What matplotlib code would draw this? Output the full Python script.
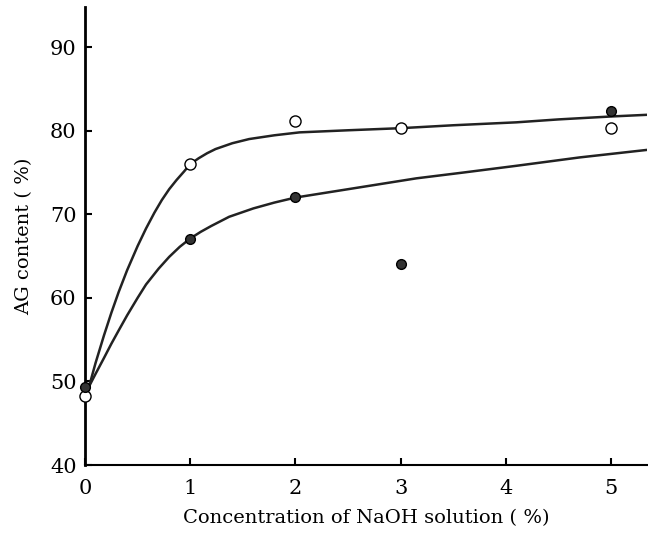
import numpy as np
import matplotlib.pyplot as plt

x_open = [0, 1, 2, 3, 5]
y_open = [48.2, 76.0, 81.1, 80.3, 80.3]
x_filled = [0, 1, 2, 3, 5]
y_filled = [49.3, 67.0, 72.1, 64.0, 82.3]

# hand-drawn fitted curves
x_curve_upper = [0.03, 0.1, 0.18, 0.25, 0.32, 0.4, 0.5, 0.58, 0.66, 0.73, 0.8, 0.87,
                 0.94, 1.0, 1.08, 1.16, 1.24, 1.4, 1.56, 1.8, 2.04, 2.5, 3.0, 3.5,
                 4.1, 4.5, 5.0, 5.34]
y_curve_upper = [49.0, 52.2, 55.5, 58.2, 60.7, 63.3, 66.2, 68.3, 70.2, 71.7, 73.0, 74.1,
                 75.1, 76.0, 76.7, 77.3, 77.8, 78.5, 79.0, 79.45, 79.8, 80.05, 80.3, 80.65,
                 81.0, 81.35, 81.7, 81.9]
x_curve_lower = [0.03, 0.1, 0.18, 0.25, 0.32, 0.4, 0.5, 0.58, 0.7, 0.8, 0.9, 1.0, 1.1,
                 1.2, 1.37, 1.6, 1.8, 2.0, 2.5, 3.15, 3.6, 4.1, 4.7, 5.34]
y_curve_lower = [49.2, 50.9, 52.8, 54.5, 56.1, 57.9, 60.0, 61.6, 63.5, 64.9, 66.1, 67.1, 67.9,
                 68.6, 69.7, 70.7, 71.4, 72.0, 73.0, 74.3, 75.0, 75.8, 76.8, 77.7]

plt.rcParams['font.family'] = ['DejaVu Serif']

fig = plt.figure(figsize=(6.48, 5.34), dpi=100)
ax = fig.add_axes([0.1312, 0.1292, 0.867, 0.8577])

ax.plot(x_curve_upper, y_curve_upper, color='#222222', lw=1.8, zorder=2)
ax.plot(x_curve_lower, y_curve_lower, color='#222222', lw=1.8, zorder=2)
ax.plot(x_open, y_open, 'o', ms=8, mfc='white', mec='black', mew=1.0, zorder=3,
        clip_on=False)
ax.plot(x_filled, y_filled, 'o', ms=7, mfc='#333333', mec='black', mew=1.0, zorder=3,
        clip_on=False)

ax.set_xlim(0, 5.34)
ax.set_ylim(40, 94.8)
ax.set_xticks([0, 1, 2, 3, 4, 5])
ax.set_yticks([40, 50, 60, 70, 80, 90])
ax.spines['top'].set_visible(False)
ax.spines['right'].set_visible(False)
ax.spines['left'].set_linewidth(2.0)
ax.spines['bottom'].set_linewidth(1.5)
ax.tick_params(direction='in', length=5, width=1.5, labelsize=15)
ax.tick_params(axis='x', pad=10)
ax.tick_params(axis='y', pad=6)
for lbl in ax.get_xticklabels() + ax.get_yticklabels():
    lbl.set_fontweight('light')

ax.set_xlabel('Concentration of NaOH solution ( %)', fontsize=14, labelpad=8)
ax.set_ylabel('AG content ( %)', fontsize=14, labelpad=12)

fig.savefig('out.png', dpi=100)
